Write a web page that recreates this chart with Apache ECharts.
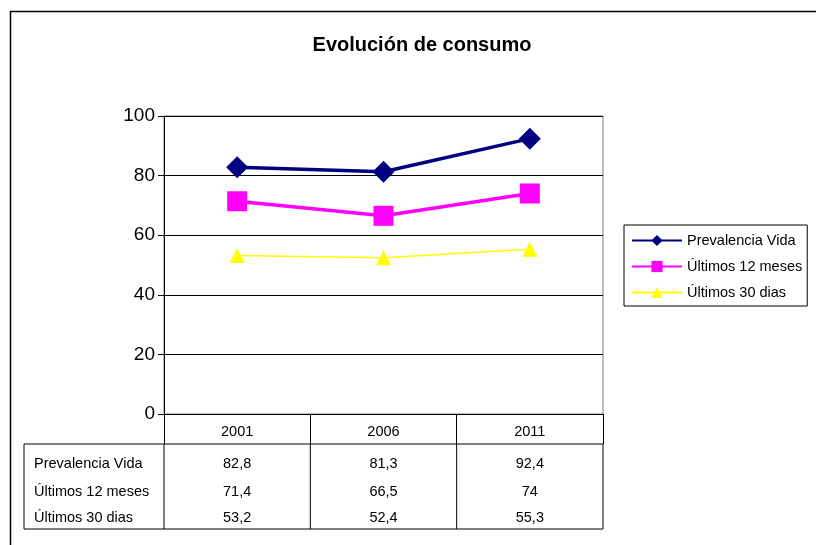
<!doctype html>
<html lang="es">
<head>
<meta charset="utf-8"/>
<title>Evolución de consumo</title>
<style>
  html, body { margin: 0; padding: 0; background: #fff; }
  #chart { width: 816px; height: 545px; }
</style>
</head>
<body>
<div id="chart"></div>
<script src="https://cdn.jsdelivr.net/npm/echarts@6/dist/echarts.min.js"></script>
<script>
  // data
  const years = ["2001", "2006", "2011"];
  const seriesNames = ["Prevalencia Vida", "Últimos 12 meses", "Últimos 30 dias"];
  const prevalenciaVida = [82.8, 81.3, 92.4];
  const ultimos12 = [71.4, 66.5, 74];
  const ultimos30 = [53.2, 52.4, 55.3];
  const yTicks = { min: 0, max: 100, interval: 20 };

  const FONT = "'Liberation Sans', Arial, sans-serif";
  const G = { left: 164, right: 603, top: 116, bottom: 414 };
  const tableTop = 444, tableBottom = 529, tableLeft = 24;
  const rowY = [464, 492, 518];

  const el = document.getElementById("chart");
  const chart = echarts.init(el, null, { renderer: "canvas" });

  const fmt = (v) => String(v).replace(".", ",");

  chart.setOption({
    animation: false,
    backgroundColor: "#fff",
    title: {
      text: "Evolución de consumo",
      left: 417, top: 30, textAlign: "center",
      textStyle: { fontFamily: FONT, fontSize: 20, fontWeight: "bold", color: "#000" },
    },
    grid: {
      left: G.left, top: G.top, width: G.right - G.left, height: G.bottom - G.top,
      show: true, borderColor: "#808080", borderWidth: 1, backgroundColor: "#fff",
    },
    legend: {
      orient: "vertical", left: 624, top: 225,
      padding: [8, 5, 6, 7], itemGap: 11,
      borderColor: "#000", borderWidth: 1,
      itemWidth: 50, itemHeight: 14,
      textStyle: { fontFamily: FONT, fontSize: 14.5, color: "#000" },
      data: seriesNames,
    },
    xAxis: {
      type: "category", data: years, boundaryGap: true,
      axisLine: { lineStyle: { color: "#000", width: 1 } },
      axisTick: { show: true, length: 30, lineStyle: { color: "#000" } },
      axisLabel: { fontFamily: FONT, fontSize: 14.5, color: "#000", margin: 10 },
    },
    yAxis: {
      type: "value", min: yTicks.min, max: yTicks.max, interval: yTicks.interval,
      axisLine: { show: true, lineStyle: { color: "#000" } },
      axisTick: { show: true, length: 6, lineStyle: { color: "#000" } },
      axisLabel: { fontFamily: FONT, fontSize: 19, color: "#000", margin: 9 },
      splitLine: { lineStyle: { color: "#000", width: 1 } },
    },
    series: [
      {
        name: seriesNames[0], type: "line", data: prevalenciaVida,
        symbol: "diamond", symbolSize: 22,
        lineStyle: { color: "#000080", width: 3.5 },
        itemStyle: { color: "#000080" },
      },
      {
        name: seriesNames[1], type: "line", data: ultimos12,
        symbol: "rect", symbolSize: 20,
        lineStyle: { color: "#FF00FF", width: 3.5 },
        itemStyle: { color: "#FF00FF" },
      },
      {
        name: seriesNames[2], type: "line", data: ultimos30,
        symbol: "triangle", symbolSize: 15,
        lineStyle: { color: "#FFFF00", width: 1.5 },
        itemStyle: { color: "#FFFF00" },
      },
    ],
  });

  // data table under the plot, positioned from the category axis
  const rows = [prevalenciaVida, ultimos12, ultimos30];
  const graphic = [];
  const line = (x1, y1, x2, y2, w) => ({
    type: "line", silent: true,
    shape: { x1, y1, x2, y2 },
    style: { stroke: "#000", lineWidth: w || 1 },
  });
  // outer frame
  graphic.push({
    type: "rect", silent: true, z: -1,
    shape: { x: 10.5, y: 11.5, width: 820, height: 560 },
    style: { fill: null, stroke: "#000", lineWidth: 1.5 },
  });
  graphic.push(line(tableLeft, tableTop, G.right, tableTop));
  graphic.push(line(tableLeft, tableBottom, G.right, tableBottom));
  graphic.push(line(tableLeft, tableTop, tableLeft, tableBottom));
  const step = (G.right - G.left) / years.length;
  for (let i = 0; i <= years.length; i++) {
    const x = G.left + i * step;
    graphic.push(line(x, tableTop, x, tableBottom));
  }
  seriesNames.forEach((name, r) => {
    graphic.push({
      type: "text", silent: true,
      style: {
        text: name, x: tableLeft + 10, y: rowY[r],
        fontFamily: FONT, fontSize: 14.5, fill: "#000", verticalAlign: "middle",
      },
    });
    years.forEach((yr, c) => {
      const x = chart.convertToPixel({ xAxisIndex: 0 }, yr);
      graphic.push({
        type: "text", silent: true,
        style: {
          text: fmt(rows[r][c]), x, y: rowY[r],
          fontFamily: FONT, fontSize: 14.5, fill: "#000",
          align: "center", verticalAlign: "middle",
        },
      });
    });
  });
  chart.setOption({ graphic });
</script>
</body>
</html>
